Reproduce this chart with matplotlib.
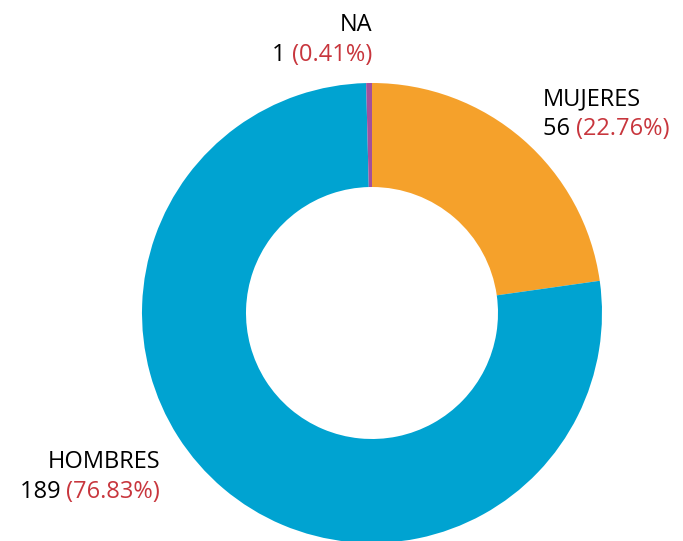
import matplotlib
matplotlib.use("Agg")
import matplotlib.pyplot as plt

labels  = ["MUJERES", "HOMBRES", "NA"]
counts  = [56, 189, 1]
pcts    = ["22.76%", "76.83%", "0.41%"]
colors  = ["#F5A12B", "#00A3D1", "#A3509B"]

W, H = 683, 541
CX, CY = 372, H - 313
R_OUT = 230
R_IN = 126

plt.rcParams["font.family"] = ["Open Sans", "DejaVu Sans"]

fig = plt.figure(figsize=(W / 100, H / 100), dpi=100)
ax = fig.add_axes([0, 0, 1, 1])
ax.set_xlim(0, W)
ax.set_ylim(0, H)
ax.set_aspect("equal")
ax.axis("off")

ax.pie(counts, colors=colors, startangle=90, counterclock=False,
       radius=R_OUT, center=(CX, CY),
       wedgeprops=dict(width=R_OUT - R_IN, linewidth=0))
ax.set_xlim(0, W)
ax.set_ylim(0, H)

# label anchors (x, baseline of first line, alignment)
anchors = [(543, H - 105, "left"), (160, H - 468, "right"), (372, H - 31, "right")]
LINE = 30
FS = 17
RED = "#C8363D"

fig.canvas.draw()
rend = fig.canvas.get_renderer()
inv = ax.transData.inverted()

for lab, n, p, (x, y, ha) in zip(labels, counts, pcts, anchors):
    ax.text(x, y, lab, fontsize=FS, ha=ha, va="baseline", color="black")
    y2 = y - LINE
    if ha == "left":
        t = ax.text(x, y2, f"{n} ", fontsize=FS, ha="left", va="baseline", color="black")
        bb = t.get_window_extent(rend)
        x_end = inv.transform((bb.x1, 0))[0]
        ax.text(x_end, y2, f"({p})", fontsize=FS, ha="left", va="baseline", color=RED)
    else:
        t = ax.text(x, y2, f"({p})", fontsize=FS, ha="right", va="baseline", color=RED)
        bb = t.get_window_extent(rend)
        x_start = inv.transform((bb.x0, 0))[0]
        ax.text(x_start, y2, f"{n} ", fontsize=FS, ha="right", va="baseline", color="black")

fig.savefig("out.png", dpi=100)
